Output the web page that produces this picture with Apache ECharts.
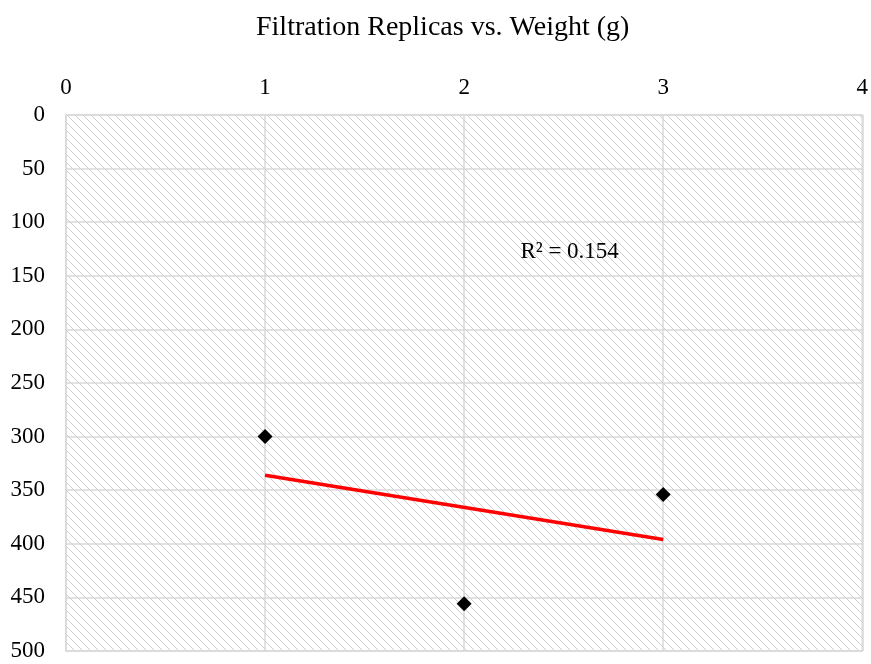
<!DOCTYPE html>
<html>
<head>
<meta charset="utf-8">
<script src="https://cdn.jsdelivr.net/npm/echarts@6/dist/echarts.min.js"></script>
<style>
html,body{margin:0;padding:0;background:#fff;}
#chart{width:871px;height:664px;}
</style>
</head>
<body>
<div id="chart"></div>
<script>
// Data
const replicas = [1, 2, 3];
const weights = [300, 456, 354];
const trendX = [1, 3];
const trendY = [336, 396];
const xTicks = [0, 1, 2, 3, 4];
const yTicks = [0, 50, 100, 150, 200, 250, 300, 350, 400, 450, 500];
const titleText = 'Filtration Replicas vs. Weight (g)';
const r2Text = 'R² = 0.154';
const r2Pos = [2.53, 128];

// hatch pattern
const pc = document.createElement('canvas');
pc.width = 8; pc.height = 8;
const pctx = pc.getContext('2d');
pctx.fillStyle = '#ffffff';
pctx.fillRect(0, 0, 8, 8);
pctx.fillStyle = '#cccccc';
for (let y = 0; y < 8; y++) {
  for (let x = 0; x < 8; x++) {
    const d = ((x - y) % 8 + 8) % 8;
    if ((d === 0 || d === 1) && ((x + y) % 2 === 0)) pctx.fillRect(x, y, 1, 1);
  }
}

const chart = echarts.init(document.getElementById('chart'));
const font = '"Liberation Serif", "Times New Roman", serif';
chart.setOption({
  animation: false,
  title: {
    text: titleText,
    left: 251,
    top: 9,
    textStyle: { fontFamily: font, fontSize: 28, fontWeight: 'normal', color: '#000' }
  },
  grid: {
    left: 66, right: 8, top: 115, bottom: 13,
    show: true,
    backgroundColor: { image: pc, repeat: 'repeat' },
    borderColor: '#d9d9d9',
    borderWidth: 1.5
  },
  xAxis: {
    type: 'value',
    position: 'top',
    min: xTicks[0], max: xTicks[xTicks.length - 1], interval: 1,
    axisLine: { show: false },
    axisTick: { show: false },
    axisLabel: { fontFamily: font, fontSize: 23, color: '#000', margin: 16 },
    splitLine: { show: true, lineStyle: { color: '#d9d9d9', width: 1.5 } }
  },
  yAxis: {
    type: 'value',
    inverse: true,
    min: yTicks[0], max: yTicks[yTicks.length - 1], interval: 50,
    axisLine: { show: false },
    axisTick: { show: false },
    axisLabel: { fontFamily: font, fontSize: 23, color: '#000', margin: 21 },
    splitLine: { show: true, lineStyle: { color: '#d9d9d9', width: 1.5 } }
  },
  series: [
    {
      type: 'line',
      data: trendX.map((x, i) => [x, trendY[i]]),
      symbol: 'none',
      lineStyle: { color: '#ff0000', width: 3.5 },
      z: 2,
      silent: true
    },
    {
      type: 'scatter',
      data: replicas.map((x, i) => [x, weights[i]]),
      symbol: 'diamond',
      symbolSize: 15,
      itemStyle: { color: '#000', opacity: 1 },
      z: 3
    },
    {
      type: 'scatter',
      data: [r2Pos],
      symbolSize: 0,
      itemStyle: { opacity: 1 },
      label: {
        show: true,
        position: 'inside',
        formatter: r2Text,
        fontFamily: font,
        fontSize: 23,
        color: '#000'
      },
      silent: true
    }
  ]
});
</script>
</body>
</html>
